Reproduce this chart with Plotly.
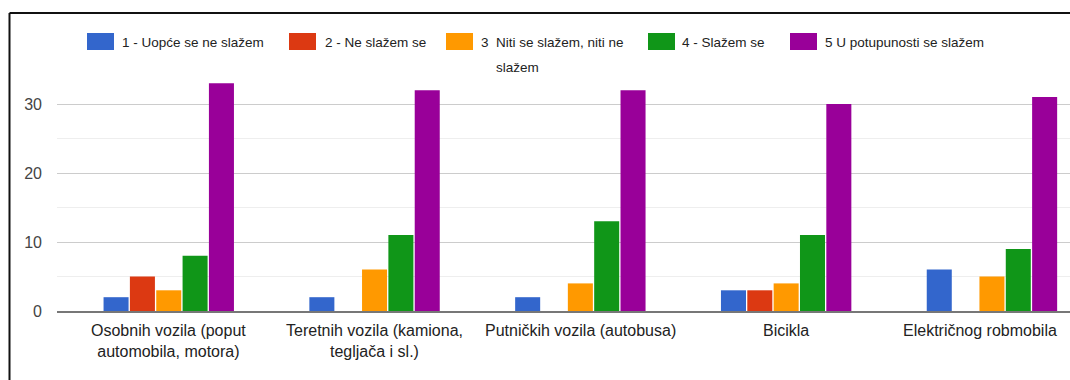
import plotly.graph_objects as go

# Survey answers per transport type (counts of respondents)
categories = [
    "Osobnih vozila (poput<br>automobila, motora)",
    "Teretnih vozila (kamiona,<br>tegljača i sl.)",
    "Putničkih vozila (autobusa)",
    "Bicikla",
    "Električnog robmobila",
]
series_names = [
    "1 - Uopće se ne slažem",
    "2 - Ne slažem se",
    "3 Niti se slažem, niti ne slažem",
    "4 - Slažem se",
    "5 U potupunosti se slažem",
]
answers_1 = [2, 2, 2, 3, 6]
answers_2 = [5, 0, 0, 3, 0]
answers_3 = [3, 6, 4, 4, 5]
answers_4 = [8, 11, 13, 11, 9]
answers_5 = [33, 32, 32, 30, 31]
y_ticks = [0, 10, 20, 30]

colors = ["#3366cc", "#dc3912", "#ff9900", "#109618", "#990099"]
series_values = [answers_1, answers_2, answers_3, answers_4, answers_5]

W, H = 1070, 380
ML, MR, MT, MB = 57, 0, 80, 69
PW = W - ML - MR
PH = H - MT - MB
PLOT_BOTTOM = H - MB
FONT = "Liberation Sans, Arial, sans-serif"
CAT_STEP = 205.8      # pixels per category slot
X_START = -0.543      # category units at the left edge of the plot


def fx(px):
    return (px - ML) / PW


def fy(py):
    return (PLOT_BOTTOM - py) / PH


fig = go.Figure()
for name, vals, col in zip(series_names, series_values, colors):
    fig.add_trace(go.Bar(
        x=categories, y=vals, name=name,
        marker=dict(color=col, line=dict(width=0)),
        showlegend=False,
    ))

shapes = []
annotations = []

# Category labels under the axis; the last one is nudged left to stay inside the frame
for i, cat in enumerate(categories):
    annotations.append(dict(
        x=cat, xref="x", y=0, yref="paper",
        xanchor="center", yanchor="top", yshift=-9,
        xshift=-12 if i == len(categories) - 1 else 0,
        showarrow=False, align="center", text=cat,
        font=dict(family=FONT, size=16, color="#222"),
    ))

# Legend row drawn across the top
legend_items = [
    (87, 120, series_names[0]),
    (289, 323, series_names[1]),
    (446, 479, None),
    (648, 680, series_names[3]),
    (790, 823, series_names[4]),
]
for (sx, tx, label), col in zip(legend_items, colors):
    shapes.append(dict(
        type="rect", xref="paper", yref="paper",
        x0=fx(sx), x1=fx(sx + 27), y0=fy(50), y1=fy(33),
        fillcolor=col, line=dict(width=0), layer="above",
    ))
    if label is not None:
        annotations.append(dict(
            x=fx(tx), y=fy(42), xref="paper", yref="paper",
            xanchor="left", yanchor="middle", showarrow=False,
            text=label, font=dict(family=FONT, size=13.5, color="#222"),
        ))

# Third legend entry wraps onto a second line
num3, rest3 = series_names[2].split(" ", 1)
first3, second3 = rest3.rsplit(" ", 1)
annotations.append(dict(
    x=fx(479), y=fy(43), xref="paper", yref="paper",
    xanchor="left", yanchor="middle", showarrow=False,
    text=num3, font=dict(family=FONT, size=13.5, color="#222"),
))
annotations.append(dict(
    x=fx(494), y=fy(43), xref="paper", yref="paper",
    xanchor="left", yanchor="middle", showarrow=False,
    text=first3, font=dict(family=FONT, size=13.5, color="#222"),
))
annotations.append(dict(
    x=fx(494), y=fy(67), xref="paper", yref="paper",
    xanchor="left", yanchor="middle", showarrow=False,
    text=second3, font=dict(family=FONT, size=13.5, color="#222"),
))

# Black frame on the left and top
shapes.append(dict(type="line", xref="paper", yref="paper",
                   x0=fx(9.5), x1=fx(W + 5), y0=fy(13), y1=fy(13),
                   line=dict(color="#111", width=2)))
shapes.append(dict(type="line", xref="paper", yref="paper",
                   x0=fx(9.5), x1=fx(9.5), y0=fy(13), y1=fy(H + 5),
                   line=dict(color="#111", width=2)))

fig.update_layout(
    width=W, height=H,
    margin=dict(l=ML, r=MR, t=MT, b=MB, pad=0),
    paper_bgcolor="white", plot_bgcolor="white",
    barmode="group", bargap=0.36, bargroupgap=0.05,
    shapes=shapes, annotations=annotations,
    showlegend=False,
    font=dict(family=FONT),
)
fig.update_xaxes(
    type="category", range=[X_START, X_START + PW / CAT_STEP],
    showgrid=False, showline=True, linecolor="#777", linewidth=2,
    ticks="", showticklabels=False,
    zeroline=False,
)
fig.update_yaxes(
    range=[0, (PLOT_BOTTOM - MT) / 6.9],
    tickmode="array", tickvals=y_ticks,
    showgrid=True, gridcolor="#cccccc", gridwidth=1,
    minor=dict(dtick=5, tick0=0, showgrid=True, gridcolor="#eeeeee", gridwidth=1),
    zeroline=False, showline=False, ticks="", ticklabelstandoff=14,
    tickfont=dict(family=FONT, size=16, color="#444"),
)

fig.write_html("out.html")
